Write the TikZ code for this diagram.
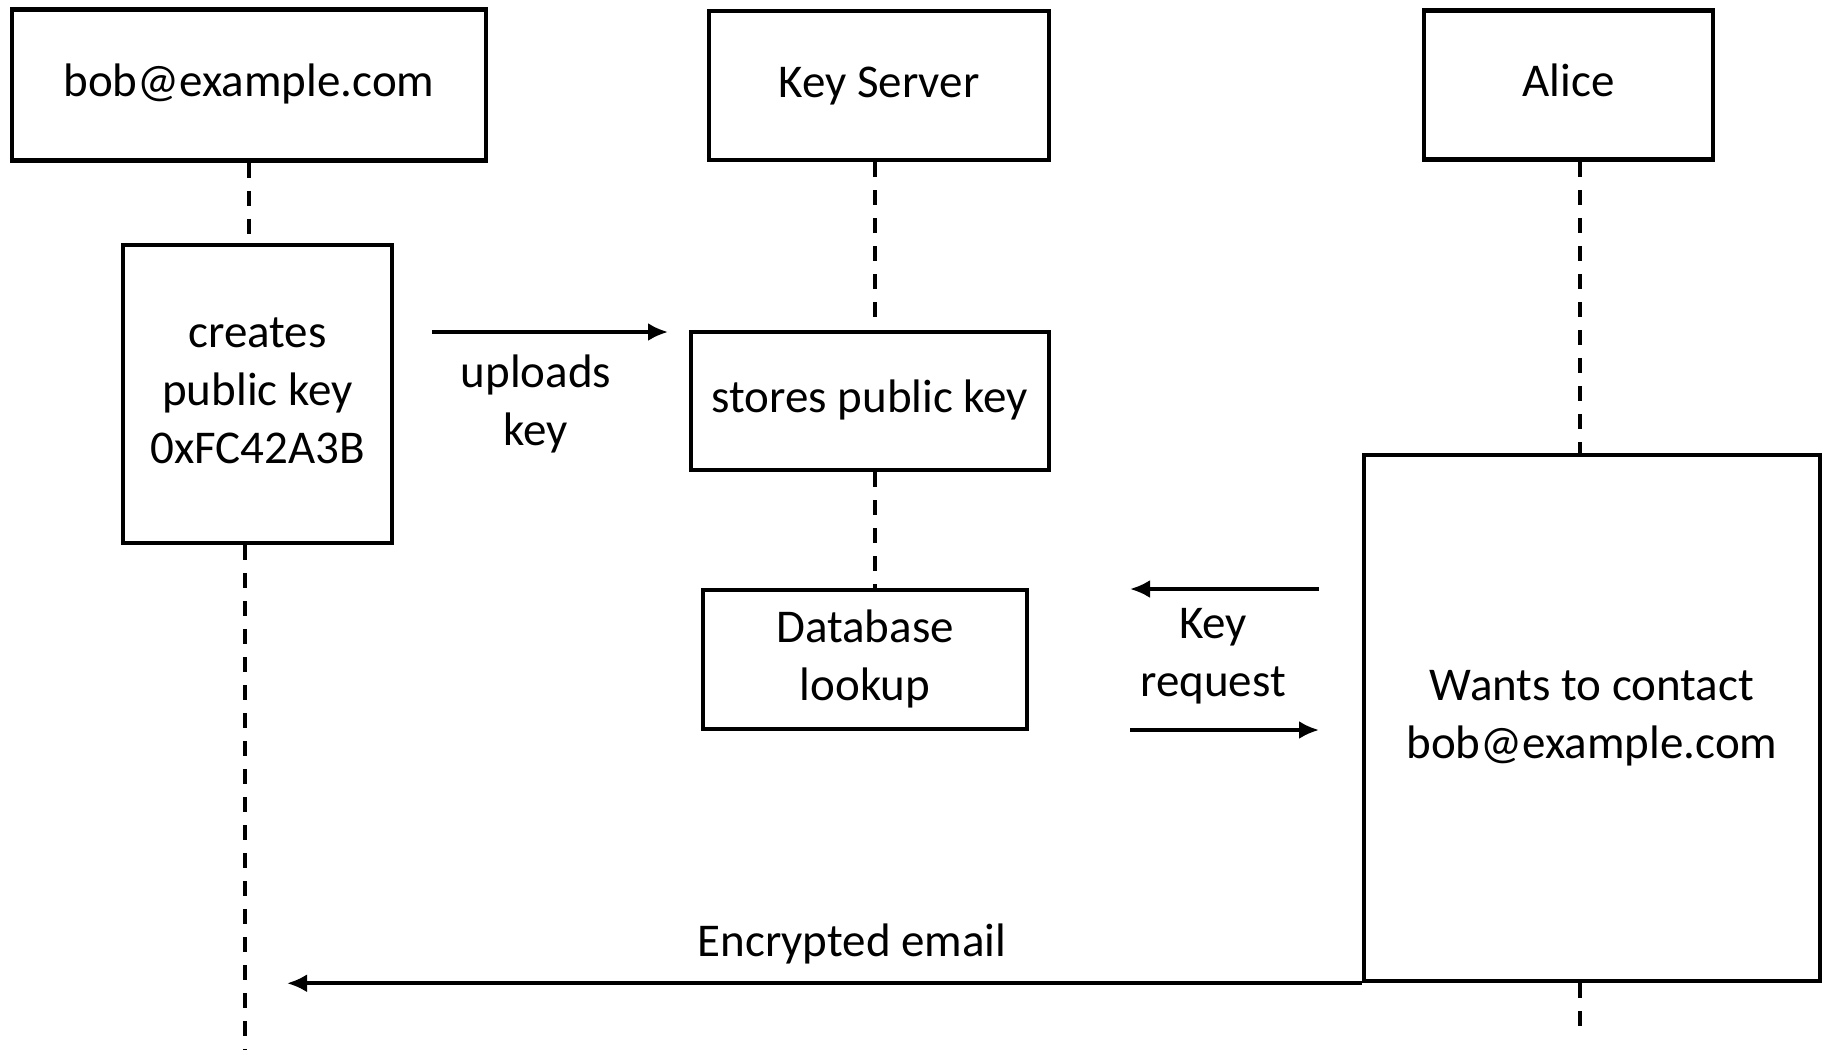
\documentclass[tikz,border=0pt]{standalone}
\usepackage{fontspec}
\setmainfont{Carlito}
\usetikzlibrary{arrows.meta,calc}
\newcommand{\boxtext}[1]{\begin{tabular}{@{}c@{}}#1\end{tabular}}
\tikzstyle{actor}=[rectangle,draw=black,line width=4.5pt,inner sep=0pt]
\tikzstyle{lifeline}=[line width=4pt,dash pattern=on 15pt off 13pt]
\tikzstyle{message}=[-{Latex[length=20pt,width=18pt]},line width=3.6pt]
\tikzstyle{msglabel}=[inner sep=0pt]

\begin{document}
\begin{tikzpicture}[x=1pt,y=-1pt,font=\fontsize{47}{58}\selectfont]
	\useasboundingbox (0,0) rectangle (1829,1050);
	
	\node[actor, minimum width=474pt, minimum height=151pt] (bob) at (249, 85) {\boxtext{bob@example.com}};
	\node[actor, minimum width=340pt, minimum height=149pt] (server) at (879, 85.5) {\boxtext{Key Server}};
	\node[actor, minimum width=289pt, minimum height=149pt] (alice) at (1568.5, 85) {\boxtext{Alice}};
	
	\node[actor, minimum width=269pt, minimum height=298pt] (creates) at (257.5, 394) {\boxtext{creates\\public key\\0xFC42A3B}};
	\node[actor, minimum width=358pt, minimum height=138pt] (stores) at (870, 401) {\boxtext{stores public key}};
	\node[actor, minimum width=324pt, minimum height=139pt] (db) at (865, 659.5) {\boxtext{Database\\lookup}};
	\node[actor, minimum width=456pt, minimum height=526pt] (wants) at (1592, 718) {\boxtext{Wants to contact\\bob@example.com}};
	
	\coordinate (bobline) at (245, 1050);
	\coordinate (serverline) at (875, 0);
	\coordinate (aliceline) at (1579.5, 1032);
	
	\draw[lifeline] (bob.south) -- (bob.south |- creates.north);
	\draw[lifeline] (bobline |- creates.south) -- (bobline);
	\draw[lifeline] (serverline |- server.south) -- (serverline |- stores.north);
	\draw[lifeline] (serverline |- stores.south) -- (serverline |- db.north);
	\draw[lifeline] (aliceline |- alice.south) -- (aliceline |- wants.north);
	\draw[lifeline] (aliceline |- wants.south) -- (aliceline);
	
	% messages
	\coordinate (up1) at (432, 332);
	\coordinate (up2) at (668, 332);
	\coordinate (kr1) at (1319, 589);
	\coordinate (kr2) at (1130, 589);
	\coordinate (kr3) at (1130, 730);
	\coordinate (kr4) at (1319, 730);
	\coordinate (mail) at (287, 983);
	
	\draw[message] (up1) -- (up2);
	\draw[message] (kr1) -- (kr2);
	\draw[message] (kr3) -- (kr4);
	\draw[message] (wants.south west) -- (mail |- wants.south west);
	
	\node[msglabel] (uploads) at (536, 405) {\boxtext{uploads\\key}};
	\node[msglabel] (keyreq) at (1213, 656) {\boxtext{Key\\request}};
	\node[msglabel] (email) at (852, 945) {\boxtext{Encrypted email}};
\end{tikzpicture}
\end{document}
